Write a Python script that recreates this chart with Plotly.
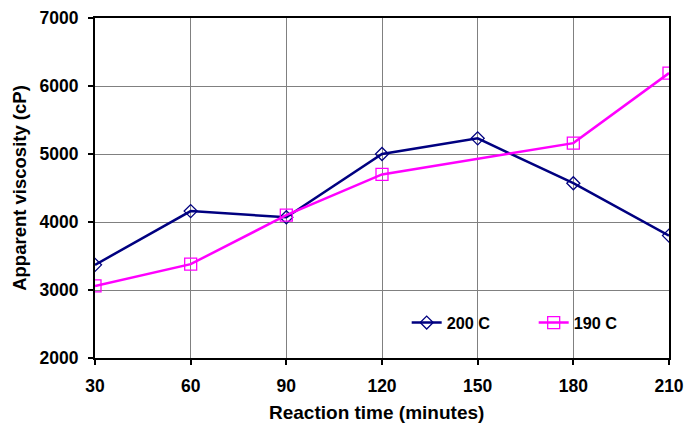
import plotly.graph_objects as go

times = [30, 60, 90, 120, 150, 180, 210]
visc_200 = [3370, 4160, 4070, 5000, 5230, 4570, 3800]
visc_190 = [3060, 3380, 4100, 4700, None, 5160, 6190]
x_ticks = [30, 60, 90, 120, 150, 180, 210]
y_ticks = [2000, 3000, 4000, 5000, 6000, 7000]

FONT = "Liberation Sans"

fig = go.Figure()
fig.add_trace(go.Scatter(
    x=times, y=visc_200, name="<b>200 C</b>", mode="lines+markers",
    line=dict(color="#000080", width=2.5),
    marker=dict(symbol="diamond-open", size=10, color="#000080", line=dict(width=1.3)),
))
fig.add_trace(go.Scatter(
    x=times, y=visc_190, name="<b>190 C</b>", mode="lines+markers", connectgaps=True,
    line=dict(color="#FF00FF", width=2.5),
    marker=dict(symbol="square-open", size=12, color="#FF00FF", line=dict(width=1.3)),
))

axis_common = dict(
    showline=True, linecolor="#000000", linewidth=2, mirror=True,
    showgrid=True, gridcolor="#808080", gridwidth=1,
    ticks="outside", ticklen=5, tickcolor="#000000", tickwidth=2,
    zeroline=False, automargin=False,
    tickfont=dict(family=FONT, size=17.5, color="#000000"),
)

# white panel behind the legend (hides the grid there, as in the original)
fig.add_shape(type="rect", xref="paper", yref="paper",
              x0=0.52, x1=0.965, y0=0.035, y1=0.19,
              fillcolor="white", line=dict(width=0), layer="between")

# x-axis title
fig.add_annotation(text="<b>Reaction time (minutes)</b>", xref="paper", yref="paper",
                   x=0.49, y=0, xanchor="center", yanchor="top", yshift=-42,
                   showarrow=False, font=dict(family=FONT, size=19, color="#000000"))

fig.update_layout(
    width=686, height=425,
    margin=dict(l=95, r=17, t=18, b=67),
    paper_bgcolor="white", plot_bgcolor="white",
    font=dict(family=FONT, color="#000000"),
    xaxis=dict(range=[30, 210], tickvals=x_ticks, ticktext=[f"<b>{v}</b>" for v in x_ticks],
               ticklabelstandoff=6, **axis_common),
    yaxis=dict(range=[2000, 7000], tickvals=y_ticks, ticktext=[f"<b>{v}</b>" for v in y_ticks],
               ticklabelstandoff=6,
               title=dict(text="<b>Apparent viscosity (cP)</b>", font=dict(family=FONT, size=18.5), standoff=8),
               **axis_common),
    legend=dict(orientation="h", x=0.543, y=0.103, xanchor="left", yanchor="middle",
                bgcolor="rgba(0,0,0,0)", borderwidth=0, font=dict(family=FONT, size=16.3, color="#000000"),
                itemwidth=30, entrywidth=82),
    showlegend=True,
)

fig.write_html("out.html", post_script="document.body.style.margin='0';",
               config={"displayModeBar": False})
